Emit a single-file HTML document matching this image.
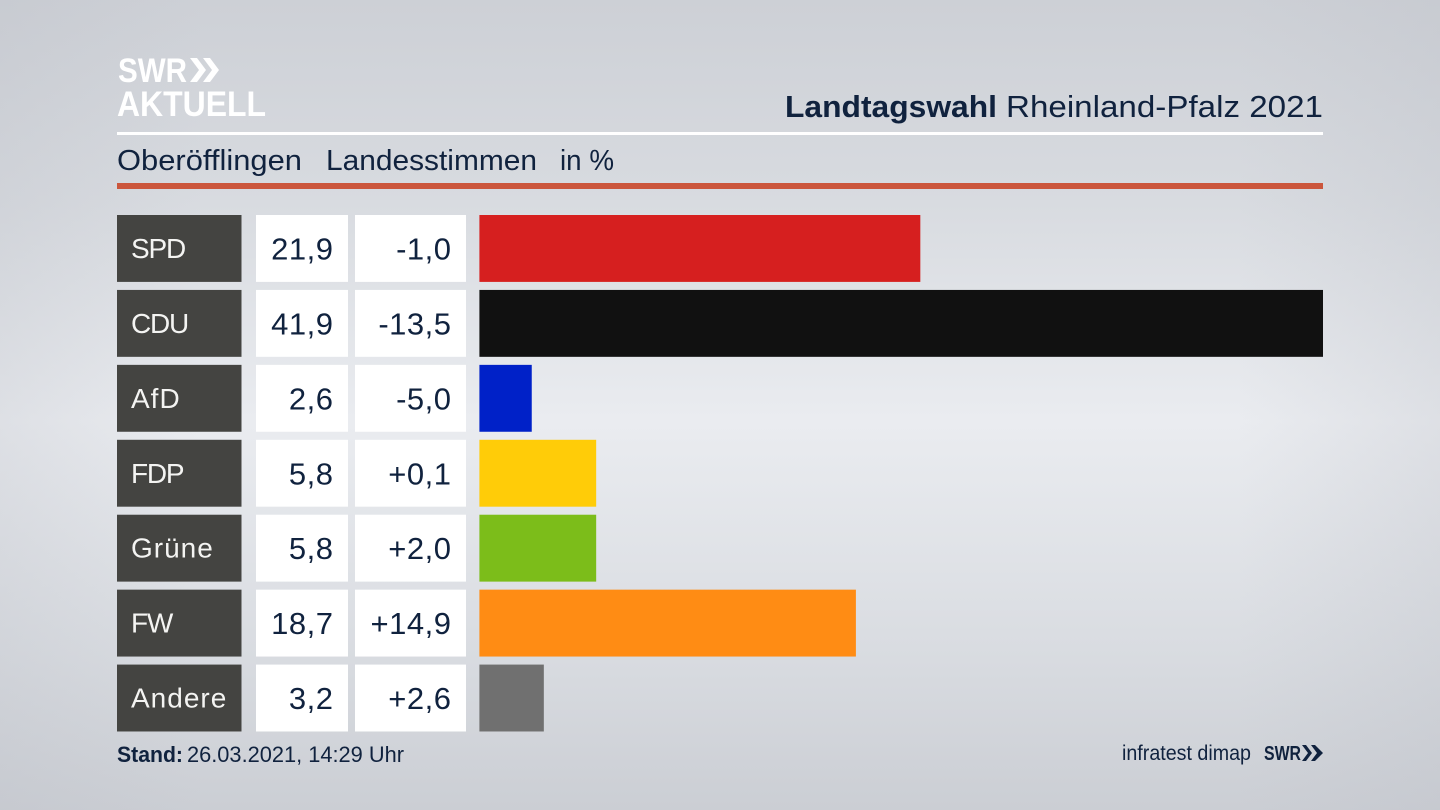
<!DOCTYPE html>
<html lang="de">
<head>
<meta charset="utf-8">
<title>Landtagswahl Rheinland-Pfalz 2021</title>
<style>
html,body{margin:0;padding:0;width:1440px;height:810px;overflow:hidden;background:#dfe1e6}
svg{display:block}
text{font-family:"Liberation Sans",sans-serif}
.dk{fill:#10223e}
.lbl{fill:#f4f4f2;font-size:28px;letter-spacing:1px}
.lbl-caps{fill:#f4f4f2;font-size:28px;letter-spacing:-1.2px}
.num{fill:#10223e;font-size:31px;letter-spacing:.5px}
</style>
</head>
<body>
<svg id="chart" width="1440" height="810" viewBox="0 0 1440 810" xmlns="http://www.w3.org/2000/svg">
  <defs>
    <linearGradient id="bgV" x1="0" y1="0" x2="0" y2="1">
      <stop offset="0" stop-color="#cdd0d6"/>
      <stop offset=".25" stop-color="#d8dbe0"/>
      <stop offset=".52" stop-color="#eaecf0"/>
      <stop offset=".8" stop-color="#d9dce1"/>
      <stop offset="1" stop-color="#cbced4"/>
    </linearGradient>
    <linearGradient id="bgH" x1="0" y1="0" x2="1" y2="0">
      <stop offset="0" stop-color="#b9bcc4" stop-opacity=".25"/>
      <stop offset=".14" stop-color="#b9bcc4" stop-opacity="0"/>
      <stop offset=".86" stop-color="#b9bcc4" stop-opacity="0"/>
      <stop offset="1" stop-color="#b9bcc4" stop-opacity=".25"/>
    </linearGradient>
  </defs>
  <rect width="1440" height="810" fill="url(#bgV)"/>
  <rect width="1440" height="810" fill="url(#bgH)"/>

  <g fill="#fff">
    <text x="118" y="82" font-size="34" font-weight="700" textLength="69" lengthAdjust="spacingAndGlyphs">SWR</text>
    <path d="M190 58h7l9 12-9 12h-7l9-12zM203 58h7l9 12-9 12h-7l9-12z"/>
    <text x="117" y="116" font-size="35" font-weight="700" textLength="149" lengthAdjust="spacingAndGlyphs">AKTUELL</text>
  </g>

  <text class="dk" x="785" y="117" font-size="31" font-weight="700" textLength="212" lengthAdjust="spacingAndGlyphs">Landtagswahl</text>
  <text class="dk" x="1006" y="117" font-size="31" textLength="317" lengthAdjust="spacingAndGlyphs">Rheinland-Pfalz 2021</text>
  <rect x="117" y="132" width="1206" height="3" fill="#fff"/>

  <text class="dk" x="117" y="170" font-size="29" textLength="185" lengthAdjust="spacingAndGlyphs">Oberöfflingen</text>
  <text class="dk" x="326" y="170" font-size="29" textLength="211" lengthAdjust="spacingAndGlyphs">Landesstimmen</text>
  <text class="dk" x="560" y="170" font-size="29" textLength="54" lengthAdjust="spacingAndGlyphs">in %</text>
  <rect x="117" y="183" width="1206" height="6" fill="#cb563c"/>

  <g id="rows"></g>

  <text class="dk" x="117" y="762" font-size="22" font-weight="700" textLength="66" lengthAdjust="spacingAndGlyphs">Stand:</text>
  <text class="dk" x="187" y="762" font-size="22" textLength="217" lengthAdjust="spacingAndGlyphs">26.03.2021, 14:29 Uhr</text>
  <text class="dk" x="1122" y="760" font-size="21" textLength="129" lengthAdjust="spacingAndGlyphs">infratest dimap</text>
  <g fill="#10223e">
    <text x="1264" y="760" font-size="20" font-weight="700" textLength="37" lengthAdjust="spacingAndGlyphs">SWR</text>
    <path d="M1302 745h4l6 8-6 8h-4l6-8zM1311 745h4l8 8-8 8h-4l6-8z"/>
  </g>
</svg>
<script>
var parties = ["SPD", "CDU", "AfD", "FDP", "Grüne", "FW", "Andere"];
var shares = [21.9, 41.9, 2.6, 5.8, 5.8, 18.7, 3.2];
var changes = [-1.0, -13.5, -5.0, 0.1, 2.0, 14.9, 2.6];
var partyColors = ["#d61f1f", "#111111", "#0021c8", "#ffcc08", "#7cbd1a", "#ff8c14", "#707070"];

var NS = "http://www.w3.org/2000/svg";
var rows = document.getElementById("rows");
var barLeft = 479.4, barMaxWidth = 843.6, axisMax = 41.9;
var rowTop = 215, rowPitch = 74.93, rowHeight = 66.9;

function xScale(v) { return v / axisMax * barMaxWidth; }
function yScale(i) { return rowTop + i * rowPitch; }
function fmtShare(v) { return v.toFixed(1).replace(".", ","); }
function fmtChange(v) { return (v > 0 ? "+" : "") + v.toFixed(1).replace(".", ","); }
function slug(s) { return s.toLowerCase().replace("ü", "ue"); }
function addRect(x, y, w, h, fill) {
  var r = document.createElementNS(NS, "rect");
  r.setAttribute("x", x);
  r.setAttribute("y", y);
  r.setAttribute("width", w);
  r.setAttribute("height", h);
  r.setAttribute("fill", fill);
  rows.appendChild(r);
  return r;
}
function addText(x, y, cls, anchor, content) {
  var t = document.createElementNS(NS, "text");
  t.setAttribute("x", x);
  t.setAttribute("y", y);
  t.setAttribute("class", cls);
  t.setAttribute("text-anchor", anchor);
  t.textContent = content;
  rows.appendChild(t);
  return t;
}

parties.forEach(function (party, i) {
  var y = yScale(i), key = slug(party), el;
  var labelClass = party === party.toUpperCase() ? "lbl-caps" : "lbl";

  el = addRect(117, y, 124.5, rowHeight, "#444441");
  
  

  el = addText(131, y + 43, labelClass, "start", party);
  
  

  el = addRect(256, y, 92, rowHeight, "#ffffff");
  
  

  el = addText(333.5, y + 44.5, "num", "end", fmtShare(shares[i]));
  
  

  el = addRect(355, y, 111, rowHeight, "#ffffff");
  
  

  el = addText(451.5, y + 44.5, "num", "end", fmtChange(changes[i]));
  
  

  el = addRect(barLeft, y, xScale(shares[i]), rowHeight, partyColors[i]);
  
  
});
</script>
</body>
</html>
